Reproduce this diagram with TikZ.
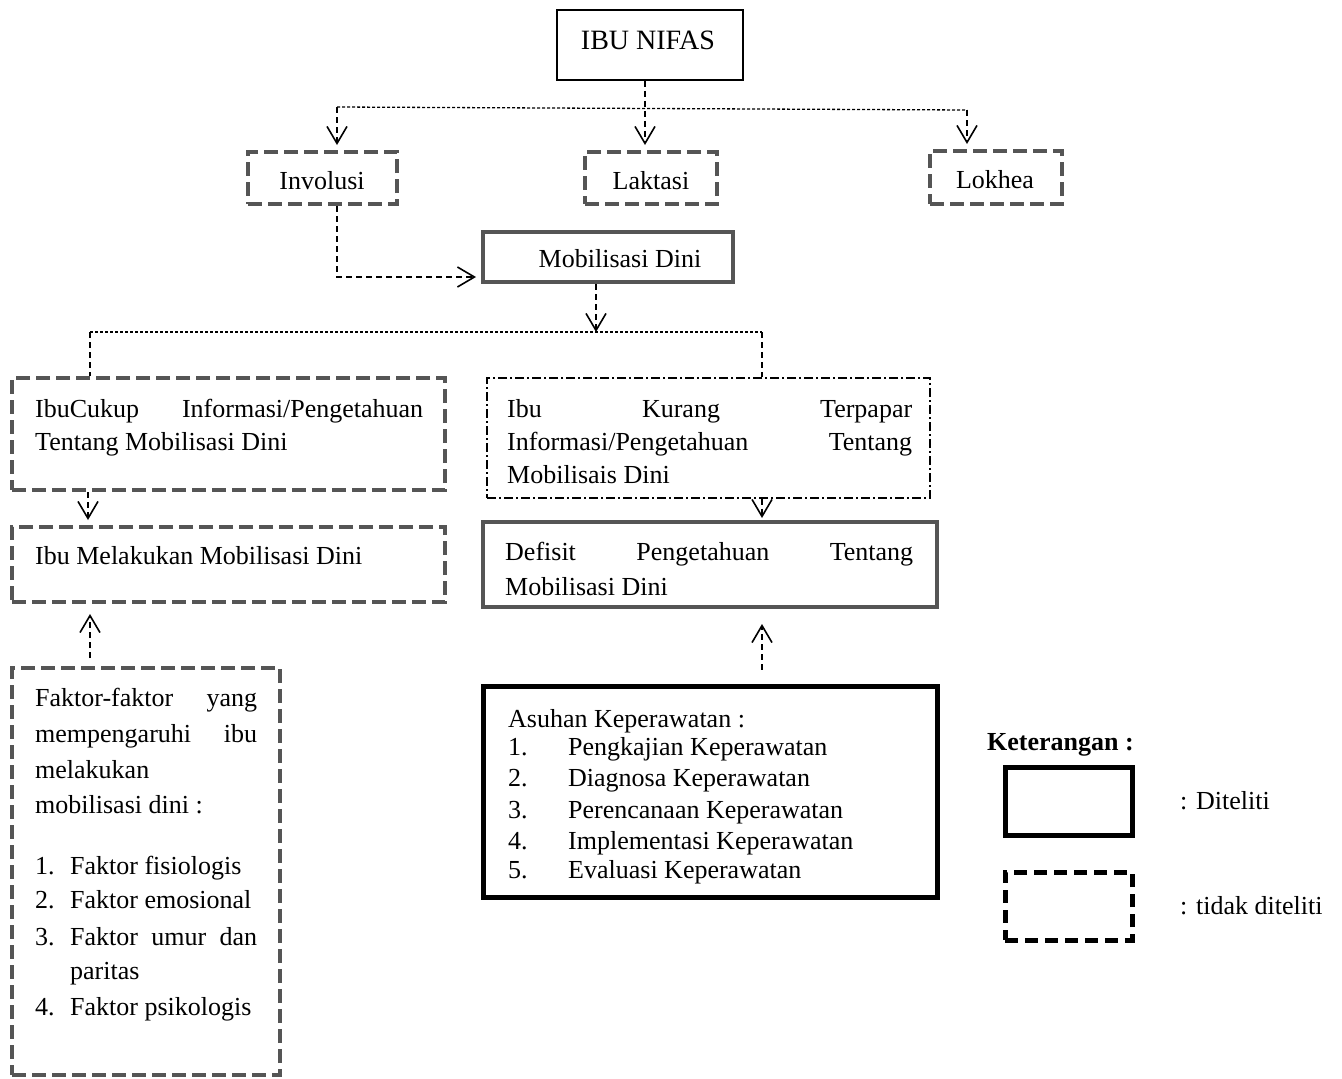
\documentclass[tikz,border=0pt]{standalone}
\usepackage{fontspec}
\setmainfont{Liberation Serif}
\usetikzlibrary{arrows.meta}
\definecolor{dg}{HTML}{555555}
\begin{document}
\begin{tikzpicture}[x=1pt,y=-1pt,
  every node/.style={font=\fontsize{26}{32}\selectfont, inner sep=0pt},
  thinbox/.style={draw=black, line width=1.5pt},
  graybox/.style={draw=dg, line width=4pt},
  graydash/.style={draw=dg, line width=4pt, dash pattern=on 14pt off 6pt},
  dashdotbox/.style={draw=black, line width=1.2pt, dash pattern=on 9pt off 3pt on 2pt off 3pt},
  blackbox/.style={draw=black, line width=5pt},
  blackdash/.style={draw=black, line width=5pt, dash pattern=on 13pt off 7pt},
  conn/.style={draw=black, line width=1.4pt, dash pattern=on 6pt off 4pt},
  dotc/.style={draw=black, line width=1.3pt, dash pattern=on 3pt off 2pt},
  arr/.style={-{Straight Barb[length=17pt,width=20pt,line width=1.6pt]}},
  txt/.style={anchor=mid west}
]
\useasboundingbox (0,0) rectangle (1342,1079);

% boxes
\node[thinbox, minimum width=186pt, minimum height=70pt] (nifas) at (650,45) {};
\node[graydash, minimum width=149pt, minimum height=52pt] (inv) at (322.5,178) {};
\node[graydash, minimum width=132pt, minimum height=52pt] (lak) at (651,178) {};
\node[graydash, minimum width=132pt, minimum height=53pt] (lok) at (996,177.5) {};
\node[graybox, minimum width=250pt, minimum height=50pt] (mob) at (608,257) {};
\node[graydash, minimum width=433pt, minimum height=112pt] (cukup) at (228.5,434) {};
\node[graydash, minimum width=433pt, minimum height=75pt] (melak) at (228.5,564.5) {};
\node[dashdotbox, minimum width=443pt, minimum height=120pt] (kurang) at (708.5,438) {};
\node[graybox, minimum width=454pt, minimum height=85pt] (defisit) at (710,564.5) {};
\node[graydash, minimum width=268pt, minimum height=407pt] (faktor) at (146,871.5) {};
\node[blackbox, minimum width=454pt, minimum height=211pt] (asuhan) at (710,791.5) {};
\node[blackbox, minimum width=127pt, minimum height=68pt] (leg1) at (1068.5,801) {};
\node[blackdash, minimum width=127pt, minimum height=68pt] (leg2) at (1068.5,906) {};

% texts
\node[anchor=mid] (tnifas) at (648,47) {\fontsize{28}{32}\selectfont IBU NIFAS};
\node[anchor=mid] (tinv) at (322,187) {Involusi};
\node[anchor=mid] (tlak) at (651,187) {Laktasi};
\node[anchor=mid] (tlok) at (995,186) {Lokhea};
\node[anchor=mid] (tmob) at (620,265) {Mobilisasi Dini};

\node[txt] (c1) at (35,415) {\makebox[388pt][s]{IbuCukup Informasi/Pengetahuan}};
\node[txt] (c2) at (35,448) {Tentang Mobilisasi Dini};
\node[txt] (m1) at (35,562) {Ibu Melakukan Mobilisasi Dini};

\node[txt] (k1) at (507,415) {\makebox[405pt][s]{Ibu Kurang Terpapar}};
\node[txt] (k2) at (507,448) {\makebox[405pt][s]{Informasi/Pengetahuan Tentang}};
\node[txt] (k3) at (507,481) {Mobilisais Dini};

\node[txt] (d1) at (505,558) {\makebox[408pt][s]{Defisit Pengetahuan Tentang}};
\node[txt] (d2) at (505,593) {Mobilisasi Dini};

\node[txt] (f1) at (35,704) {\makebox[222pt][s]{Faktor-faktor yang}};
\node[txt] (f2) at (35,740) {\makebox[222pt][s]{mempengaruhi ibu}};
\node[txt] (f3) at (35,776) {melakukan};
\node[txt] (f4) at (35,811) {mobilisasi dini :};
\node[txt] (f5) at (35,872) {\makebox[35pt][l]{1.}Faktor fisiologis};
\node[txt] (f6) at (35,906) {\makebox[35pt][l]{2.}Faktor emosional};
\node[txt] (f7) at (35,943) {\makebox[35pt][l]{3.}\makebox[187pt][s]{Faktor umur dan}};
\node[txt] (f8) at (70,977) {paritas};
\node[txt] (f9) at (35,1013) {\makebox[35pt][l]{4.}Faktor psikologis};

\node[txt] (a0) at (508,725) {Asuhan Keperawatan :};
\node[txt] (a1) at (508,753) {\makebox[60pt][l]{1.}Pengkajian Keperawatan};
\node[txt] (a2) at (508,784) {\makebox[60pt][l]{2.}Diagnosa Keperawatan};
\node[txt] (a3) at (508,816) {\makebox[60pt][l]{3.}Perencanaan Keperawatan};
\node[txt] (a4) at (508,847) {\makebox[60pt][l]{4.}Implementasi Keperawatan};
\node[txt] (a5) at (508,876) {\makebox[60pt][l]{5.}Evaluasi Keperawatan};

\node[txt] (ket) at (987,748) {\bfseries Keterangan :};
\node[txt] (l1) at (1180,807) {: Diteliti};
\node[txt] (l2) at (1180,912) {: tidak diteliti};

% connectors
\coordinate (jt) at (645,107);
\coordinate (jl) at (337,107);
\coordinate (jr) at (967,110);
\draw[conn,arr,shorten >=5pt] (nifas.south -| jt) -- (jt |- lak.north);
\draw[dotc] (jl) -- (jr);
\draw[conn,arr,shorten >=5pt] (jl) -- (jl |- inv.north);
\draw[conn,arr,shorten >=5pt] (jr) -- (jr |- lok.north);
\coordinate (bend1) at (337,277);
\draw[conn,arr,shorten >=5pt] (jl |- inv.south) -- (bend1) -- (bend1 -| mob.west);
\coordinate (jm) at (596,332);
\draw[conn,arr] (jm |- mob.south) -- (jm);
\coordinate (ml) at (90,332);
\coordinate (mr) at (762,332);
\draw[dotc] (ml) -- (mr);
\draw[conn] (ml) -- (ml |- cukup.north);
\draw[conn] (mr) -- (mr |- kurang.north);
\coordinate (x1) at (88,0);
\coordinate (x2) at (762,0);
\coordinate (x3) at (90,0);
\draw[conn,arr,shorten >=5pt] (x1 |- cukup.south) -- (x1 |- melak.north);
\draw[conn,arr,shorten >=2pt] (x2 |- kurang.south) -- (x2 |- defisit.north);
\draw[conn,arr,shorten <=8pt,shorten >=10pt] (x3 |- faktor.north) -- (x3 |- melak.south);
\draw[conn,arr,shorten <=14pt,shorten >=15pt] (x2 |- asuhan.north) -- (x2 |- defisit.south);
\end{tikzpicture}
\end{document}
